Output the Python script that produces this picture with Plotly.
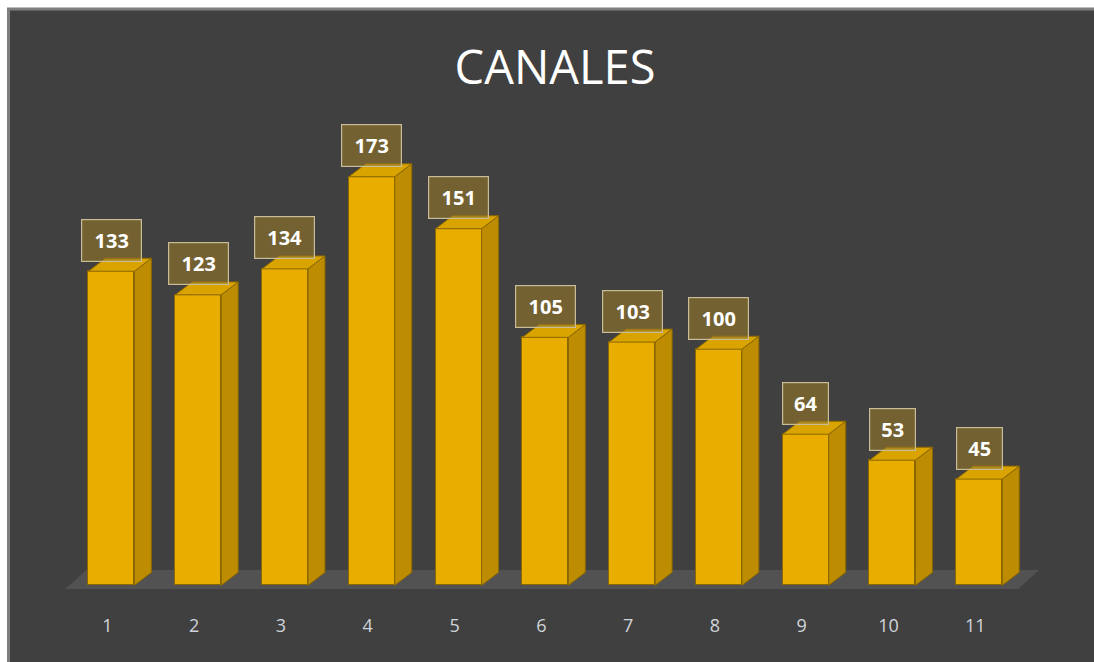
import plotly.graph_objects as go

categories = [1, 2, 3, 4, 5, 6, 7, 8, 9, 10, 11]
values = [133, 123, 134, 173, 151, 105, 103, 100, 64, 53, 45]
tick_labels = [str(c) for c in categories]
title_text = "CANALES"

# style
W_BAR = 0.53      # front face width (category units)
DX = 0.196        # depth offset in x (category units)
DY = 5.5          # depth offset in y (value units)
FRONT = "#E9AD00"
SIDE = "#BE8C00"
TOP = "#D9A300"
EDGE = "#8A6700"

L, R, T, B = 55, 41, 113, 53
PW, PH = 1094 - L - R, 662 - T - B

fig = go.Figure()

# front faces
fig.add_trace(go.Bar(
    x=categories, y=values, width=W_BAR,
    marker=dict(color=FRONT, line=dict(color=EDGE, width=1)),
    hoverinfo="x+y", showlegend=False,
))

# side faces and top faces computed from the data
sx, sy, tx, ty = [], [], [], []
for c, v in zip(categories, values):
    xr = c + W_BAR / 2
    xl = c - W_BAR / 2
    sx += [xr, xr + DX, xr + DX, xr, xr, None]
    sy += [0, DY, v + DY, v, 0, None]
    tx += [xl, xr, xr + DX, xl + DX, xl, None]
    ty += [v, v, v + DY, v + DY, v, None]

fig.add_trace(go.Scatter(x=sx, y=sy, mode="lines", fill="toself", fillcolor=SIDE,
                         line=dict(color=EDGE, width=1), hoverinfo="skip", showlegend=False))
fig.add_trace(go.Scatter(x=tx, y=ty, mode="lines", fill="toself", fillcolor=TOP,
                         line=dict(color=EDGE, width=1), hoverinfo="skip", showlegend=False))

# floor
fx0 = categories[0] - 0.53
fx1 = categories[-1] + 0.45
fdx = 0.24
floor_path = (f"M {fx0},-1.5 L {fx1},-1.5 L {fx1 + fdx},6.5 L {fx0 + fdx},6.5 Z")

shapes = [
    # chart frame
    dict(type="rect", xref="paper", yref="paper",
         x0=(8.5 - L) / PW, x1=(1110 - L) / PW,
         y0=(T + PH - 700) / PH, y1=(T + PH - 9) / PH,
         fillcolor="#404040", line=dict(color="#7F7F7F", width=3), layer="below"),
    dict(type="path", xref="x", yref="y", path=floor_path,
         fillcolor="#525252", line=dict(width=0), layer="below"),
]

annotations = []
for c, v in zip(categories, values):
    txt = str(v)
    annotations.append(dict(
        x=c, y=v, xref="x", yref="y", text=f"<b>{txt}</b>", showarrow=False,
        yshift=31, yanchor="middle", xanchor="center",
        width=14 * len(txt) + 3, height=27, borderpad=7,
        bgcolor="rgba(150,120,40,0.6)", bordercolor="#C9BD98", borderwidth=1.2,
        font=dict(family="Open Sans", size=20, color="#FFFFFF"),
    ))

fig.update_layout(
    width=1094, height=662,
    margin=dict(l=L, r=R, t=T, b=B),
    paper_bgcolor="#FFFFFF", plot_bgcolor="rgba(0,0,0,0)",
    title=dict(text=title_text, x=(555 - L) / PW, xref="paper", xanchor="center",
               y=1 - 68 / 662, yanchor="middle",
               font=dict(family="Open Sans", size=47, color="#FFFFFF")),
    xaxis=dict(range=[0.35, 11.85], tickvals=categories, ticktext=tick_labels,
               showgrid=False, zeroline=False, showline=False, ticks="",
               tickfont=dict(family="Open Sans", size=18, color="#D0D4DA"),
               ticklabelstandoff=4, ticklabelshift=-4, fixedrange=True),
    yaxis=dict(range=[-10, 200], visible=False, showgrid=False, zeroline=False,
               fixedrange=True),
    shapes=shapes, annotations=annotations, bargap=0,
)

fig.write_html(
    "out.html",
    config={"displayModeBar": False},
    post_script="document.body.style.margin='0px';document.body.style.overflow='hidden';",
)
